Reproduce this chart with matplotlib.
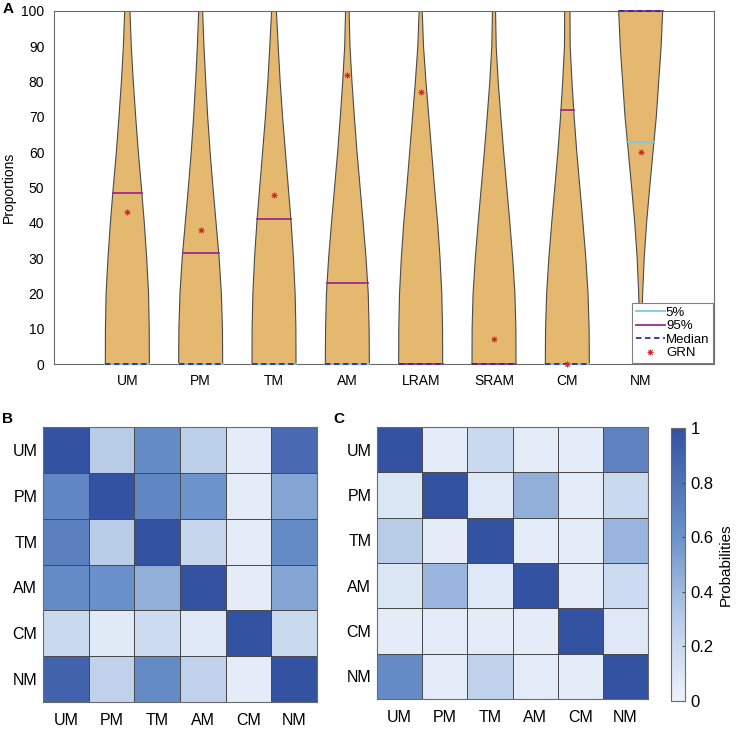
import numpy as np
import matplotlib
matplotlib.use("Agg")
import matplotlib.pyplot as plt
from matplotlib.colors import LinearSegmentedColormap
from matplotlib.lines import Line2D

plt.rcParams['font.family'] = ['Liberation Sans', 'DejaVu Sans']

# ---------------- data: panel A ----------------
categories = ["UM", "PM", "TM", "AM", "LRAM", "SRAM", "CM", "NM"]
levels = [0, 10, 20, 30, 40, 50, 60, 70, 80, 90, 100]
# normalised violin widths at each level
width_UM   = [1.00, 0.995, 0.965, 0.88, 0.77, 0.64, 0.50, 0.38, 0.27, 0.18, 0.12]
width_PM   = [1.00, 0.99, 0.94, 0.84, 0.70, 0.56, 0.43, 0.32, 0.23, 0.15, 0.09]
width_TM   = [1.00, 0.995, 0.96, 0.885, 0.78, 0.65, 0.52, 0.39, 0.28, 0.19, 0.11]
width_AM   = [1.00, 0.99, 0.95, 0.85, 0.72, 0.58, 0.44, 0.32, 0.21, 0.12, 0.08]
width_LRAM = [1.00, 0.995, 0.96, 0.88, 0.77, 0.63, 0.50, 0.37, 0.24, 0.13, 0.07]
width_SRAM = [1.00, 0.995, 0.95, 0.85, 0.72, 0.58, 0.44, 0.31, 0.19, 0.10, 0.07]
width_CM   = [1.00, 0.99, 0.94, 0.84, 0.71, 0.57, 0.43, 0.31, 0.21, 0.13, 0.12]
width_NM   = [0.03, 0.05, 0.09, 0.16, 0.27, 0.41, 0.56, 0.71, 0.82, 0.93, 1.00]
widths = [width_UM, width_PM, width_TM, width_AM, width_LRAM, width_SRAM, width_CM, width_NM]

p5     = [0, 0, 0, 0, 0, 0, 0, 63]
p95    = [48.5, 31.5, 41, 23, 0, 0, 72, 100]
median = [0, 0, 0, 0, 0, 0, 0, 100]
grn    = [43, 38, 48, 82, 77, 7, 0, 60]

# ---------------- data: panels B, C ----------------
mat_labels = ["UM", "PM", "TM", "AM", "CM", "NM"]
prob_B = np.array([
    [1.00, 0.30, 0.65, 0.28, 0.05, 0.85],
    [0.68, 1.00, 0.68, 0.60, 0.05, 0.50],
    [0.72, 0.30, 1.00, 0.22, 0.05, 0.65],
    [0.65, 0.62, 0.45, 1.00, 0.05, 0.50],
    [0.20, 0.07, 0.18, 0.08, 1.00, 0.20],
    [0.90, 0.25, 0.65, 0.25, 0.05, 1.00],
])
prob_C = np.array([
    [1.00, 0.05, 0.20, 0.05, 0.05, 0.70],
    [0.10, 1.00, 0.08, 0.45, 0.05, 0.20],
    [0.30, 0.05, 1.00, 0.06, 0.05, 0.42],
    [0.10, 0.42, 0.08, 1.00, 0.05, 0.18],
    [0.05, 0.06, 0.05, 0.05, 1.00, 0.08],
    [0.65, 0.06, 0.25, 0.06, 0.05, 1.00],
])

# ---------------- figure ----------------
fig = plt.figure(figsize=(7.36, 7.29), dpi=100)
W, H = 736, 729

def rect(x0, y0, x1, y1):
    return [x0 / W, 1 - y1 / H, (x1 - x0) / W, (y1 - y0) / H]

axA = fig.add_axes(rect(54, 11, 714, 364))
fill_col = '#E4B96F'
c5, c95, cmed, cgrn = '#7CC7E6', '#9B2C8F', '#2E3192', '#D9262C'
maxw = 0.30
fine = np.linspace(0, 100, 201)
for i, cat in enumerate(categories):
    x0 = i + 1
    w = np.interp(fine, levels, widths[i]) * maxw
    xs = np.concatenate([x0 - w, (x0 + w)[::-1]])
    ys = np.concatenate([fine, fine[::-1]])
    axA.fill(xs, ys, facecolor=fill_col, edgecolor='#4a4a4a', lw=0.8, zorder=2)
    for val, col, ls in [(p5[i], c5, '-'), (p95[i], c95, '-'), (median[i], cmed, '--')]:
        hw = np.interp(val, levels, widths[i]) * maxw
        axA.plot([x0 - hw, x0 + hw], [val, val], color=col, ls=ls, lw=1.3,
                 zorder=3, clip_on=False, dashes=(3, 2) if ls == '--' else (None, None))
    axA.plot([x0], [grn[i]], marker=(8, 2, 0), color=cgrn, ms=4, mew=0.6,
             ls='none', zorder=4, clip_on=False)

axA.set_xlim(0, 9)
axA.set_ylim(0, 100)
axA.set_xticks(range(1, 9))
axA.set_xticklabels(categories)
axA.set_yticks(range(0, 101, 10))
axA.tick_params(length=0, labelsize=10, pad=7)
axA.set_ylabel("Proportions", fontsize=10, labelpad=4)
for s in axA.spines.values():
    s.set_color('#6b6b6b')
    s.set_linewidth(0.8)

handles = [Line2D([], [], color=c5, lw=1.3),
           Line2D([], [], color=c95, lw=1.3),
           Line2D([], [], color=cmed, lw=1.3, ls='--', dashes=(3, 2)),
           Line2D([], [], color=cgrn, marker=(8, 2, 0), ls='none', ms=4, mew=0.6)]
leg = axA.legend(handles, ["5%", "95%", "Median", "GRN"], loc='lower right',
                 fontsize=9.5, frameon=True, fancybox=False, framealpha=1,
                 edgecolor='#808080', borderaxespad=0.1, handlelength=2.2,
                 handletextpad=0.1, labelspacing=0.1, borderpad=0.25)
leg.get_frame().set_linewidth(0.8)

cmap = LinearSegmentedColormap.from_list(
    'blues_m', [(0.0, '#ECF2FB'), (0.3, '#B8CCE8'), (0.6, '#6C93CC'), (1.0, '#3452A2')])

def heat(ax, data):
    n = len(mat_labels)
    ax.pcolormesh(np.arange(n + 1), np.arange(n + 1), data, cmap=cmap,
                  vmin=0, vmax=1, edgecolors='#4a4a4a', linewidth=0.6)
    ax.set_xlim(0, n)
    ax.set_ylim(n, 0)
    ax.set_xticks(np.arange(n) + 0.5)
    ax.set_yticks(np.arange(n) + 0.5)
    ax.set_xticklabels(mat_labels)
    ax.set_yticklabels(mat_labels)
    ax.tick_params(axis='y', length=0, labelsize=11.5, pad=4)
    ax.tick_params(axis='x', length=0, labelsize=11.5, pad=8)
    for s in ax.spines.values():
        s.set_color('#6b6b6b')
        s.set_linewidth(0.8)

axB = fig.add_axes(rect(43, 427, 317, 702))
heat(axB, prob_B)
axC = fig.add_axes(rect(377, 427, 648, 699))
heat(axC, prob_C)

cax = fig.add_axes(rect(671, 428, 685, 701))
sm = matplotlib.cm.ScalarMappable(cmap=cmap, norm=plt.Normalize(0, 1))
cb = fig.colorbar(sm, cax=cax)
cb.set_ticks([0, 0.2, 0.4, 0.6, 0.8, 1])
cb.set_ticklabels(["0", "0.2", "0.4", "0.6", "0.8", "1"])
cb.ax.tick_params(labelsize=12, length=2, color='#4a4a4a', direction='in', pad=4)
cb.outline.set_edgecolor('#6b6b6b')
cb.outline.set_linewidth(0.8)
cb.set_label("Probabilities", fontsize=11, labelpad=4)

fig.text(3 / W, 1 - 9 / H, "A", fontsize=11, fontweight='bold', va='center', ha='left')
fig.text(2 / W, 1 - 419 / H, "B", fontsize=11, fontweight='bold', va='center', ha='left')
fig.text(333 / W, 1 - 419 / H, "C", fontsize=11, fontweight='bold', va='center', ha='left')

fig.savefig("out.png", dpi=100)
